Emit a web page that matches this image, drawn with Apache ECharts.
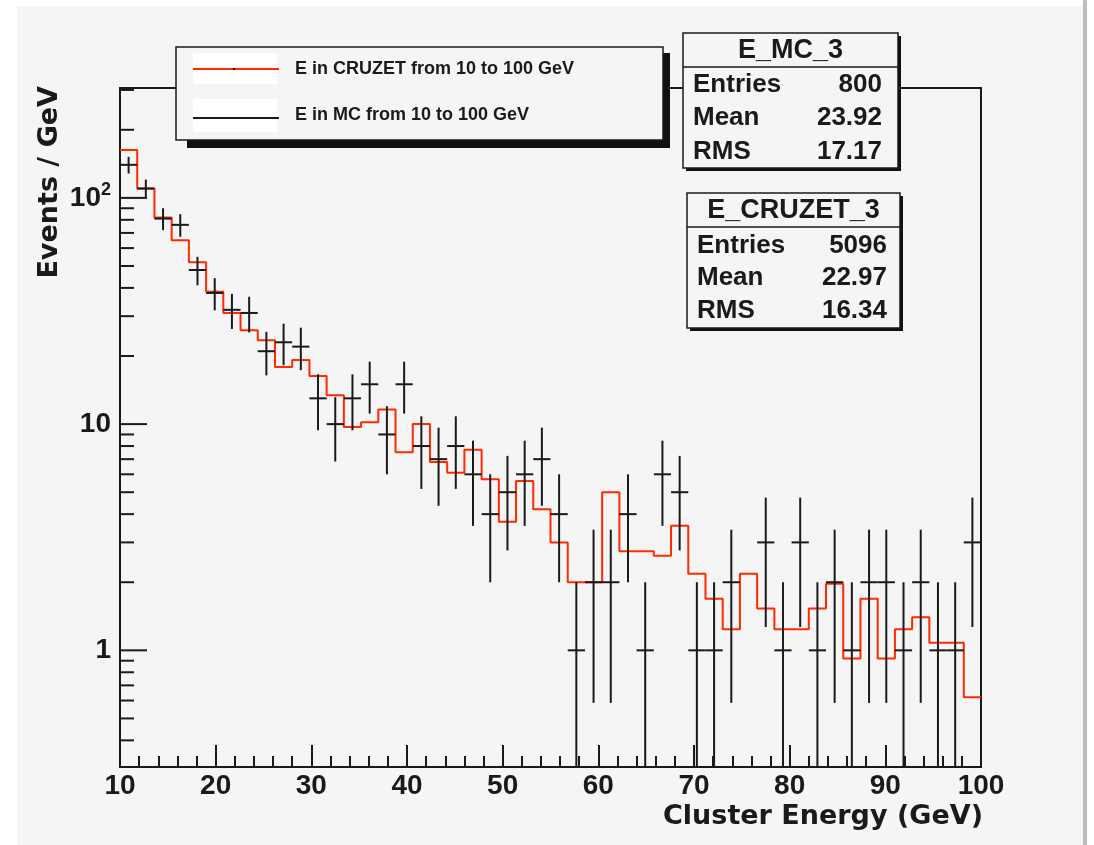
<!DOCTYPE html>
<html>
<head>
<meta charset="utf-8">
<script src="https://cdn.jsdelivr.net/npm/echarts@6/dist/echarts.min.js"></script>
<style>
  html, body { margin: 0; padding: 0; background: #ffffff; }
  #chart { width: 1094px; height: 845px; }
</style>
</head>
<body>
<div id="chart"></div>
<script>
// Histogram binning: 50 bins of 1.8 GeV between 10 and 100 GeV
const xMin = 10;
const xMax = 100;
const nBins = 50;
const binWidth = (xMax - xMin) / nBins;

// E_MC_3: entries per bin (drawn with sqrt(N) error bars)
const mcCounts = [
  140, 110, 81, 76, 48, 38, 32, 31, 21, 23,
  22, 13, 10, 13, 15, 9, 15, 8, 7, 8,
  6, 4, 5, 6, 7, 4, 1, 2, 2, 4,
  1, 6, 5, 1, 1, 2, 0, 3, 1, 3,
  1, 2, 1, 2, 2, 1, 2, 1, 1, 3
];

// E_CRUZET_3: bin contents scaled to the MC entries
const cruzetValues = [
  163, 110, 82, 65, 52, 38.5, 31, 26, 23.5, 17.9,
  19.2, 16.3, 13.4, 9.7, 10.2, 11.6, 7.5, 10.0, 6.8, 6.1,
  7.7, 5.7, 3.7, 5.6, 4.2, 3.0, 2.0, 2.0, 5.0, 2.74,
  2.74, 2.62, 3.55, 2.18, 1.69, 1.24, 2.18, 1.53, 1.24, 1.24,
  1.53, 1.97, 0.92, 1.69, 0.92, 1.24, 1.40, 1.08, 1.08, 0.62
];

// Log y axis range and its tick marks
const yMin = 0.305;
const yMax = 306;
const yMajorTicks = [1, 10, 100];
const yMinorTicks = [0.4, 0.5, 0.6, 0.7, 0.8, 0.9, 2, 3, 4, 5, 6, 7, 8, 9,
                     20, 30, 40, 50, 60, 70, 80, 90, 200, 300];

// Legend and statistics boxes
const legendLabels = ['E in CRUZET from 10 to 100 GeV', 'E in MC from 10 to 100 GeV'];
const mcStatsTitle = 'E_MC_3';
const mcStatsRows = [['Entries', '800'], ['Mean', '23.92'], ['RMS', '17.17']];
const cruzetStatsTitle = 'E_CRUZET_3';
const cruzetStatsRows = [['Entries', '5096'], ['Mean', '22.97'], ['RMS', '16.34']];
const xTitle = 'Cluster Energy (GeV)';
const yTitle = 'Events / GeV';

const ink = '#1a1a1a';
const red = '#ff2a00';
const labelFont = 'Liberation Sans';
const titleFont = 'DejaVu Sans';

// step outline: left edge of every bin, then the right edge of the last one
const stepPoints = cruzetValues.map((v, i) => [xMin + i * binWidth, v]);
stepPoints.push([xMax, cruzetValues[nBins - 1]]);

// MC points at bin centres; empty bins are not drawn on a log scale
const mcPoints = [];
mcCounts.forEach((n, i) => {
  if (n > 0) mcPoints.push([xMin + (i + 0.5) * binWidth, n]);
});

const yTickData = yMajorTicks.map(v => [xMin, v, 1])
  .concat(yMinorTicks.map(v => [xMin, v, 0]));

function isDecade(v) {
  const l = Math.log10(v);
  return Math.abs(l - Math.round(l)) < 1e-6;
}

function statsBox(x, y, w, h, divY, title, rows, rowYs, labelX, valueX) {
  const els = [
    { type: 'rect', z: 20, shape: { x: x + 3, y: y + 3, width: w, height: h },
      style: { fill: '#111111' } },
    { type: 'rect', z: 21, shape: { x: x, y: y, width: w, height: h },
      style: { fill: '#f5f5f5', stroke: ink, lineWidth: 1.5 } },
    { type: 'line', z: 22, shape: { x1: x, y1: divY, x2: x + w, y2: divY },
      style: { stroke: ink, lineWidth: 1.5 } },
    { type: 'text', z: 22, x: x + w / 2, y: (y + divY) / 2 + 1,
      style: { text: title, font: 'bold 27px "' + labelFont + '"', fill: ink,
               align: 'center', verticalAlign: 'middle' } }
  ];
  rows.forEach((r, i) => {
    els.push({ type: 'text', z: 22, x: labelX, y: rowYs[i],
      style: { text: r[0], font: 'bold 26px "' + labelFont + '"', fill: ink,
               align: 'left', verticalAlign: 'middle' } });
    els.push({ type: 'text', z: 22, x: valueX, y: rowYs[i],
      style: { text: r[1], font: 'bold 26px "' + labelFont + '"', fill: ink,
               align: 'right', verticalAlign: 'middle' } });
  });
  return els;
}

const graphicElements = [
  // page edges around the grey canvas
  { type: 'rect', z: -10, shape: { x: 0, y: 0, width: 1094, height: 6 }, style: { fill: '#ffffff' } },
  { type: 'rect', z: -10, shape: { x: 0, y: 0, width: 17, height: 845 }, style: { fill: '#ffffff' } },
  { type: 'rect', z: -10, shape: { x: 1083, y: 0, width: 4, height: 845 }, style: { fill: '#bdbdbd' } },
  { type: 'rect', z: -10, shape: { x: 1087, y: 0, width: 7, height: 845 }, style: { fill: '#ffffff' } },

  // axis titles
  { type: 'text', z: 5, x: 983, y: 817,
    style: { text: xTitle, font: 'bold 27px "' + titleFont + '"', fill: ink,
             align: 'right', verticalAlign: 'middle' } },
  { type: 'text', z: 5, x: 50, y: 86, rotation: Math.PI / 2,
    style: { text: yTitle, font: 'bold 27px "' + titleFont + '"', fill: ink,
             align: 'right', verticalAlign: 'middle' } },

  // legend
  { type: 'rect', z: 20, shape: { x: 187, y: 53, width: 483, height: 95 }, style: { fill: '#111111' } },
  { type: 'rect', z: 21, shape: { x: 176, y: 47, width: 487, height: 93 },
    style: { fill: '#f5f5f5', stroke: ink, lineWidth: 1.5 } },
  { type: 'rect', z: 22, shape: { x: 193, y: 53, width: 84, height: 31 }, style: { fill: '#ffffff' } },
  { type: 'rect', z: 22, shape: { x: 193, y: 99, width: 84, height: 33 }, style: { fill: '#ffffff' } },
  { type: 'line', z: 23, shape: { x1: 193, y1: 69, x2: 279, y2: 69 }, style: { stroke: red, lineWidth: 2 } },
  { type: 'rect', z: 24, shape: { x: 233, y: 68, width: 2, height: 2 }, style: { fill: '#000000' } },
  { type: 'line', z: 23, shape: { x1: 193, y1: 118, x2: 279, y2: 118 }, style: { stroke: ink, lineWidth: 2 } },
  { type: 'text', z: 23, x: 295, y: 69,
    style: { text: legendLabels[0], font: 'bold 18px "' + labelFont + '"', fill: ink,
             align: 'left', verticalAlign: 'middle' } },
  { type: 'text', z: 23, x: 295, y: 115,
    style: { text: legendLabels[1], font: 'bold 18px "' + labelFont + '"', fill: ink,
             align: 'left', verticalAlign: 'middle' } }
].concat(
  statsBox(683, 33, 215, 135, 67, mcStatsTitle, mcStatsRows, [85, 118, 152], 693, 882),
  statsBox(687, 193, 213, 135, 227, cruzetStatsTitle, cruzetStatsRows, [246, 278, 311], 697, 887)
);

const chart = echarts.init(document.getElementById('chart'), null, { renderer: 'canvas' });

chart.setOption({
  animation: false,
  backgroundColor: '#f5f5f5',
  grid: {
    left: 120, top: 88, width: 861, height: 679,
    show: true, borderColor: ink, borderWidth: 2, backgroundColor: 'transparent',
    containLabel: false, outerBoundsMode: 'none'
  },
  xAxis: {
    type: 'value', min: xMin, max: xMax, interval: 10,
    axisLine: { show: true, onZero: false, lineStyle: { color: ink, width: 2 } },
    axisTick: { show: true, inside: true, length: 22, lineStyle: { color: ink, width: 2 } },
    minorTick: { show: true, splitNumber: 5, length: 11, lineStyle: { color: ink, width: 2 } },
    splitLine: { show: false },
    minorSplitLine: { show: false },
    axisLabel: { fontFamily: labelFont, fontWeight: 'bold', fontSize: 28, color: ink, margin: 5 }
  },
  yAxis: {
    type: 'log', logBase: 10, min: yMin, max: yMax,
    axisLine: { show: true, lineStyle: { color: ink, width: 2 } },
    axisTick: { show: false },
    minorTick: { show: false },
    splitLine: { show: false },
    axisLabel: {
      fontFamily: labelFont, fontWeight: 'bold', fontSize: 28, color: ink, margin: 9,
      showMinLabel: true, showMaxLabel: true,
      formatter: function (v) {
        if (!isDecade(v)) return '';
        const e = Math.round(Math.log10(v));
        if (e >= 2) return '{b|10}{s|' + e + '}';
        return String(Math.round(v));
      },
      rich: {
        b: { fontFamily: labelFont, fontWeight: 'bold', fontSize: 28, color: ink, lineHeight: 34 },
        s: { fontFamily: labelFont, fontWeight: 'bold', fontSize: 18, color: ink, verticalAlign: 'top' }
      }
    }
  },
  series: [
    {
      name: legendLabels[0],
      type: 'line',
      step: 'end',
      data: stepPoints,
      symbol: 'none',
      showSymbol: false,
      lineStyle: { color: red, width: 2 },
      z: 3,
      silent: true
    },
    {
      name: legendLabels[1],
      type: 'custom',
      data: mcPoints,
      encode: { x: 0, y: 1 },
      z: 4,
      silent: true,
      renderItem: function (params, api) {
        const x = api.value(0);
        const n = api.value(1);
        const err = Math.sqrt(n);
        const left = api.coord([x - binWidth / 2, n]);
        const right = api.coord([x + binWidth / 2, n]);
        const top = api.coord([x, Math.min(n + err, yMax)]);
        const bottom = api.coord([x, Math.max(n - err, yMin)]);
        const st = { stroke: ink, lineWidth: 2 };
        return {
          type: 'group',
          children: [
            { type: 'line', shape: { x1: left[0], y1: left[1], x2: right[0], y2: right[1] }, style: st },
            { type: 'line', shape: { x1: top[0], y1: top[1], x2: bottom[0], y2: bottom[1] }, style: st }
          ]
        };
      }
    },
    {
      // tick marks on the log axis, decades and the 2..9 subdivisions
      type: 'custom',
      data: yTickData,
      encode: { x: 0, y: 1 },
      z: 5,
      silent: true,
      renderItem: function (params, api) {
        const p = api.coord([api.value(0), api.value(1)]);
        const len = api.value(2) ? 27 : 14;
        return {
          type: 'line',
          shape: { x1: p[0], y1: p[1], x2: p[0] + len, y2: p[1] },
          style: { stroke: ink, lineWidth: 2 }
        };
      }
    }
  ],
  graphic: { elements: graphicElements }
});
</script>
</body>
</html>
